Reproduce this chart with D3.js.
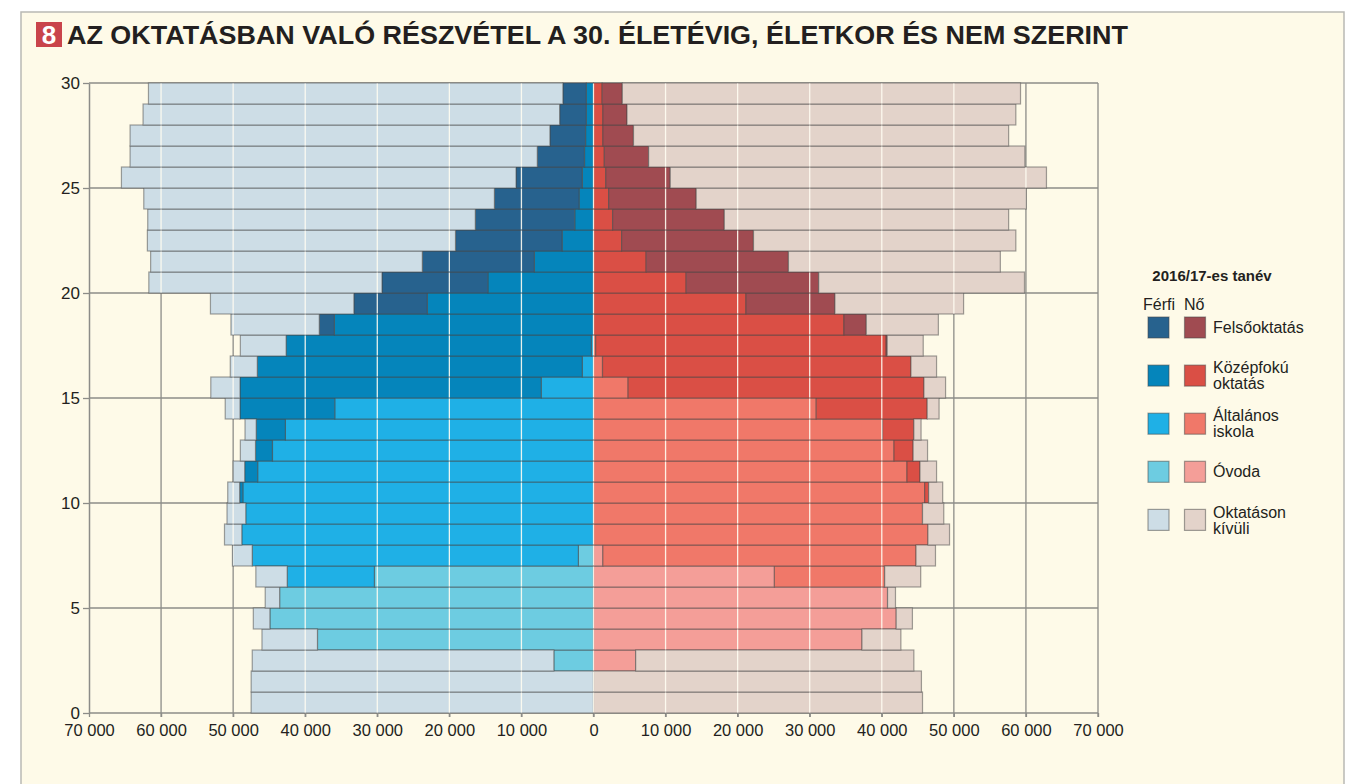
<!DOCTYPE html>
<html>
<head>
<meta charset="utf-8">
<script src="https://cdn.jsdelivr.net/npm/d3@7"></script>
<style>
  body { margin: 0; background: #fff; }
  svg { display: block; }
  text { font-family: "Liberation Sans Narrow", "Arial Narrow", "Liberation Sans", Arial, sans-serif; }
</style>
</head>
<body>
<svg id="chart"></svg>
<script>
// életkor (0-29 év)
var ages = [0,1,2,3,4,5,6,7,8,9,10,11,12,13,14,15,16,17,18,19,20,21,22,23,24,25,26,27,28,29];

// Férfi
var maleOvoda    = [0,0,5500,38300,44900,43550,30400,2100,0,0,0,0,0,0,0,0,0,0,0,0,0,0,0,0,0,0,0,0,0,0];
var maleAltalanos= [0,0,0,0,0,0,12100,45250,48800,48250,48650,46600,44550,42750,35900,7250,1550,300,0,0,0,0,0,0,0,0,0,0,0,0];
var maleKozep    = [0,0,0,0,0,0,0,0,0,0,450,1800,2350,4050,13150,41800,45100,42350,35950,23050,14650,8200,4350,2600,2000,1550,1250,1100,1000,1000];
var maleFelso    = [0,0,0,0,0,0,0,0,0,0,0,0,0,0,0,0,0,0,2100,10200,14700,15550,14800,13800,11750,9200,6550,4950,3700,3250];
var maleKivul    = [47500,47500,41850,7700,2300,2000,4350,2750,2400,2600,1650,1600,2100,1550,2050,4050,3750,6350,12250,19900,32350,37700,42750,45450,48650,54750,56500,58250,57800,57500];

// Nő
var femaleOvoda    = [0,0,5850,37250,42000,40800,25100,1300,0,0,0,0,0,0,0,0,0,0,0,0,0,0,0,0,0,0,0,0,0,0];
var femaleAltalanos= [0,0,0,0,0,0,15300,43450,46400,45650,45950,43500,41700,40100,30900,4800,1250,300,0,0,0,0,0,0,0,0,0,0,0,0];
var femaleKozep    = [0,0,0,0,0,0,0,0,0,0,550,1800,2650,4350,15400,41050,42800,40300,34750,21150,12850,7300,3900,2650,2100,1700,1500,1300,1300,1200];
var femaleFelso    = [0,0,0,0,0,0,0,0,0,0,0,0,0,0,0,0,0,150,3100,12350,18400,19750,18300,15500,12150,8950,6150,4250,3350,2800];
var femaleKivul    = [45650,45500,38600,5400,2250,1100,5000,2700,3000,2950,1950,2300,2000,1000,1650,3000,3550,5000,10000,17850,28550,29400,36400,39450,45800,52200,52200,52050,53950,55250];

var keys = ["ovoda", "altalanos", "kozep", "felso", "kivul"];
var legendLabels = [["Felsőoktatás"], ["Középfokú", "oktatás"], ["Általános", "iskola"], ["Óvoda"], ["Oktatáson", "kívüli"]];
var legendKeys = ["felso", "kozep", "altalanos", "ovoda", "kivul"];

var maleColors = {ovoda: "#6dcce1", altalanos: "#1fb0e6", kozep: "#0585bb", felso: "#27628e", kivul: "#cddde6"};
var femaleColors = {ovoda: "#f49e98", altalanos: "#f07869", kozep: "#da4f45", felso: "#a04b51", kivul: "#e3d3ca"};

var xTickValues = [-70000,-60000,-50000,-40000,-30000,-20000,-10000,0,10000,20000,30000,40000,50000,60000,70000];
var xTickLabels = ["70 000","60 000","50 000","40 000","30 000","20 000","10 000","0","10 000","20 000","30 000","40 000","50 000","60 000","70 000"];
var yTickValues = [0,5,10,15,20,25,30];

var svg = d3.select('#chart')
  .attr('width', 1370)
  .attr('height', 784);

// háttér
svg.append('rect')
  .attr('x', 21).attr('y', 12)
  .attr('width', 1323).attr('height', 800)
  .attr('fill', '#fefae8')
  .attr('stroke', '#b9b9b4')
  .attr('stroke-width', 1.5);

// cím
svg.append('rect')
  .attr('x', 36).attr('y', 22)
  .attr('width', 26).attr('height', 25)
  .attr('fill', '#c9444b');
svg.append('text')
  .attr('x', 49).attr('y', 44)
  .attr('text-anchor', 'middle')
  .attr('fill', '#fff')
  .style('font-size', '26px')
  .style('font-weight', 'bold')
  .text('8');
svg.append('text')
  .attr('x', 67).attr('y', 44)
  .attr('fill', '#231f20')
  .style('font-size', '26px')
  .style('font-weight', 'bold')
  .attr('textLength', 1061)
  .attr('lengthAdjust', 'spacingAndGlyphs')
  .text('AZ OKTATÁSBAN VALÓ RÉSZVÉTEL A 30. ÉLETÉVIG, ÉLETKOR ÉS NEM SZERINT');

// skálák
var x = d3.scaleLinear().domain([-70000, 70000]).range([89, 1098]);
var y = d3.scaleLinear().domain([0, 30]).range([713, 83]);

// adatok
var maleRows = ages.map(function(a, i) {
  return {age: a, ovoda: maleOvoda[i], altalanos: maleAltalanos[i], kozep: maleKozep[i], felso: maleFelso[i], kivul: maleKivul[i]};
});
var femaleRows = ages.map(function(a, i) {
  return {age: a, ovoda: femaleOvoda[i], altalanos: femaleAltalanos[i], kozep: femaleKozep[i], felso: femaleFelso[i], kivul: femaleKivul[i]};
});
var stack = d3.stack().keys(keys);
var maleStack = stack(maleRows);
var femaleStack = stack(femaleRows);

// szürke rácsvonalak
var grid = svg.append('g');
grid.selectAll('line.v')
  .data(xTickValues.filter(function(d) { return d !== -70000; }))
  .enter().append('line')
  .attr('x1', function(d) { return x(d); })
  .attr('x2', function(d) { return x(d); })
  .attr('y1', y(30)).attr('y2', y(0) + 4)
  .attr('stroke', '#8c8c88')
  .attr('stroke-width', 1.3);
grid.selectAll('line.h')
  .data(yTickValues)
  .enter().append('line')
  .attr('x1', x(-70000)).attr('x2', x(70000))
  .attr('y1', function(d) { return y(d); })
  .attr('y2', function(d) { return y(d); })
  .attr('stroke', '#8c8c88')
  .attr('stroke-width', 1.3);

// oszlopok
var barStroke = 'rgba(70,70,70,0.5)';
svg.append('g').selectAll('g')
  .data(maleStack)
  .enter().append('g')
  .attr('fill', function(d) { return maleColors[d.key]; })
  .selectAll('rect')
  .data(function(d) { return d.filter(function(p) { return p[1] > p[0]; }); })
  .enter().append('rect')
  .attr('x', function(d) { return x(-d[1]); })
  .attr('width', function(d) { return x(-d[0]) - x(-d[1]); })
  .attr('y', function(d) { return y(d.data.age + 1); })
  .attr('height', function(d) { return y(d.data.age) - y(d.data.age + 1); })
  .attr('stroke', barStroke)
  .attr('stroke-width', 1.2);

svg.append('g').selectAll('g')
  .data(femaleStack)
  .enter().append('g')
  .attr('fill', function(d) { return femaleColors[d.key]; })
  .selectAll('rect')
  .data(function(d) { return d.filter(function(p) { return p[1] > p[0]; }); })
  .enter().append('rect')
  .attr('x', function(d) { return x(d[0]); })
  .attr('width', function(d) { return x(d[1]) - x(d[0]); })
  .attr('y', function(d) { return y(d.data.age + 1); })
  .attr('height', function(d) { return y(d.data.age) - y(d.data.age + 1); })
  .attr('stroke', barStroke)
  .attr('stroke-width', 1.2);

// fehér rácsvonalak az oszlopokon
var clip = svg.append('clipPath').attr('id', 'barclip');
ages.forEach(function(a, i) {
  var mTot = maleStack[maleStack.length - 1][i][1];
  var fTot = femaleStack[femaleStack.length - 1][i][1];
  clip.append('rect')
    .attr('x', x(-mTot) + 1)
    .attr('width', x(fTot) - x(-mTot) - 2)
    .attr('y', y(a + 1) + 0.6)
    .attr('height', y(a) - y(a + 1) - 1.2);
});
svg.append('g')
  .attr('clip-path', 'url(#barclip)')
  .selectAll('line')
  .data(xTickValues)
  .enter().append('line')
  .attr('x1', function(d) { return x(d); })
  .attr('x2', function(d) { return x(d); })
  .attr('y1', y(30)).attr('y2', y(0))
  .attr('stroke', '#fffdf2')
  .attr('stroke-opacity', 0.9)
  .attr('stroke-width', 1.3);

// tengelyek
var yAxis = d3.axisLeft(y).tickValues(yTickValues).tickSize(6).tickSizeOuter(0).tickPadding(3);
var gy = svg.append('g').attr('transform', 'translate(' + x(-70000) + ',0)').call(yAxis);
gy.select('.domain').attr('stroke', '#8c8c88').attr('stroke-width', 1.5);
gy.selectAll('.tick line').attr('stroke', '#8c8c88').attr('stroke-width', 1.3);
gy.selectAll('.tick text').attr('fill', '#231f20').style('font-size', '17px');

var xAxis = d3.axisBottom(x).tickValues(xTickValues)
  .tickFormat(function(d, i) { return xTickLabels[i]; })
  .tickSize(4).tickSizeOuter(0).tickPadding(7);
var gx = svg.append('g').attr('transform', 'translate(0,' + y(0) + ')').call(xAxis);
gx.select('.domain').remove();
gx.selectAll('.tick line').attr('stroke', '#8c8c88').attr('stroke-width', 1.3);
gx.selectAll('.tick text').attr('fill', '#231f20').style('font-size', '16.5px');

// jelmagyarázat
var legend = svg.append('g');
legend.append('text')
  .attr('x', 1212).attr('y', 281)
  .attr('text-anchor', 'middle')
  .attr('fill', '#231f20')
  .style('font-size', '15px')
  .style('font-weight', 'bold')
  .text('2016/17-es tanév');
legend.append('text')
  .attr('x', 1143).attr('y', 310)
  .attr('fill', '#231f20')
  .style('font-size', '16px')
  .text('Férfi');
legend.append('text')
  .attr('x', 1184).attr('y', 310)
  .attr('fill', '#231f20')
  .style('font-size', '16px')
  .text('Nő');

legendKeys.forEach(function(k, i) {
  var top = 317 + i * 48.1;
  legend.append('rect')
    .attr('x', 1148).attr('y', top)
    .attr('width', 21).attr('height', 21)
    .attr('fill', maleColors[k])
    .attr('stroke', barStroke).attr('stroke-width', 1.2);
  legend.append('rect')
    .attr('x', 1184.5).attr('y', top)
    .attr('width', 21).attr('height', 21)
    .attr('fill', femaleColors[k])
    .attr('stroke', barStroke).attr('stroke-width', 1.2);
  var lines = legendLabels[i];
  var cy = top + 10.5;
  lines.forEach(function(t, j) {
    legend.append('text')
      .attr('x', 1213)
      .attr('y', cy + (j - (lines.length - 1) / 2) * 16)
      .attr('dy', '0.35em')
      .attr('fill', '#231f20')
      .style('font-size', '16px')
      .text(t);
  });
});
</script>
</body>
</html>
